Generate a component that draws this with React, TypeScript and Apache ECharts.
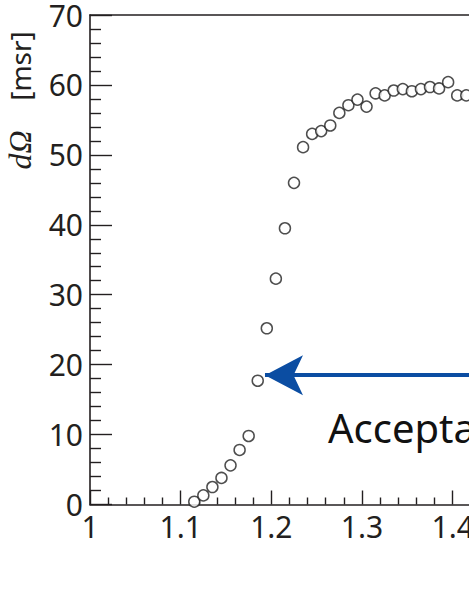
import React, { useEffect, useRef } from "react";
import * as echarts from "echarts";

const xValues = [
  1.115, 1.125, 1.135, 1.145, 1.155, 1.165, 1.175, 1.185, 1.195, 1.205,
  1.215, 1.225, 1.235, 1.245, 1.255, 1.265, 1.275, 1.285, 1.295, 1.305,
  1.315, 1.325, 1.335, 1.345, 1.355, 1.365, 1.375, 1.385, 1.395, 1.405,
  1.415,
];
const yValues = [
  0.4, 1.3, 2.5, 3.8, 5.6, 7.8, 9.8, 17.7, 25.2, 32.3,
  39.5, 46.0, 51.1, 53.0, 53.4, 54.2, 56.0, 57.1, 57.9, 56.9,
  58.8, 58.5, 59.2, 59.4, 59.1, 59.4, 59.7, 59.5, 60.4, 58.5,
  58.5,
];
const arrowFrom = [1.6, 18.5];
const arrowTo = [1.193, 18.5];
const annotationText = "Acceptance";
const yTitleItalic = "dΩ";
const yTitleUnit = "[msr]";

const INK = "#231f20";
const FONT = "'Noto Sans', sans-serif";

export default function App() {
  const ref = useRef<HTMLDivElement>(null);
  useEffect(() => {
    if (!ref.current) return;
    const chart = echarts.init(ref.current, null, { renderer: "svg" });
    const points = xValues.map((x, i) => [x, yValues[i]]);
    chart.setOption({
      animation: false,
      backgroundColor: "#ffffff",
      grid: { left: 90, top: 14, width: 544, height: 490.5 },
      xAxis: [
        {
          type: "value",
          min: 1,
          max: 1.6,
          interval: 0.1,
          position: "bottom",
          axisLine: { show: true, onZero: false, lineStyle: { color: INK, width: 1.6 } },
          axisTick: { show: true, inside: true, length: 14, lineStyle: { color: INK, width: 1.4 } },
          minorTick: { show: true, splitNumber: 5, length: 7, lineStyle: { color: INK, width: 1.4 } },
          splitLine: { show: false },
          axisLabel: {
            color: INK,
            fontFamily: FONT,
            fontSize: 30,
            margin: 7,
            formatter: (v: number) => String(Math.round(v * 10) / 10),
          },
        },
        {
          type: "value",
          min: 1,
          max: 1.6,
          position: "top",
          axisLine: { show: true, onZero: false, lineStyle: { color: INK, width: 1.6 } },
          axisTick: { show: false },
          axisLabel: { show: false },
          splitLine: { show: false },
        },
      ],
      yAxis: {
        type: "value",
        min: 0,
        max: 70,
        interval: 10,
        axisLine: { show: true, onZero: false, lineStyle: { color: INK, width: 1.6 } },
        axisTick: { show: true, inside: true, length: 22, lineStyle: { color: INK, width: 1.4 } },
        minorTick: { show: true, splitNumber: 5, length: 11, lineStyle: { color: INK, width: 1.4 } },
        splitLine: { show: false },
        axisLabel: { color: INK, fontFamily: FONT, fontSize: 30, margin: 7 },
      },
      series: [
        {
          type: "scatter",
          data: points,
          symbol: "circle",
          symbolSize: 11,
          itemStyle: { color: "#ffffff", borderColor: "#222222", borderWidth: 1.5 },
          silent: true,
          z: 3,
          markLine: {
            silent: true,
            symbol: ["none", "arrow"],
            symbolSize: [30, 38],
            lineStyle: { color: "#0b4da2", width: 4, type: "solid" },
            label: { show: false },
            data: [[{ coord: arrowFrom }, { coord: arrowTo }]],
          },
        },
      ],
      graphic: [
        {
          type: "text",
          left: 328,
          top: 407,
          style: {
            text: annotationText,
            fill: "#111111",
            font: `40px ${FONT}`,
          },
        },
        {
          type: "text",
          x: 20,
          y: 150,
          rotation: Math.PI / 2,
          style: {
            text: yTitleItalic,
            align: "center",
            verticalAlign: "middle",
            fill: INK,
            font: `italic 32px 'Liberation Serif', serif`,
          },
        },
        {
          type: "text",
          x: 20,
          y: 66,
          rotation: Math.PI / 2,
          style: {
            text: yTitleUnit,
            align: "center",
            verticalAlign: "middle",
            fill: INK,
            font: `28px ${FONT}`,
          },
        },
      ],
    });
    return () => chart.dispose();
  }, []);
  return (
    <div style={{ position: "fixed", left: 0, top: 0, width: 469, height: 607, overflow: "hidden", background: "#fff" }}>
      <div ref={ref} style={{ width: 700, height: 607 }} />
    </div>
  );
}
